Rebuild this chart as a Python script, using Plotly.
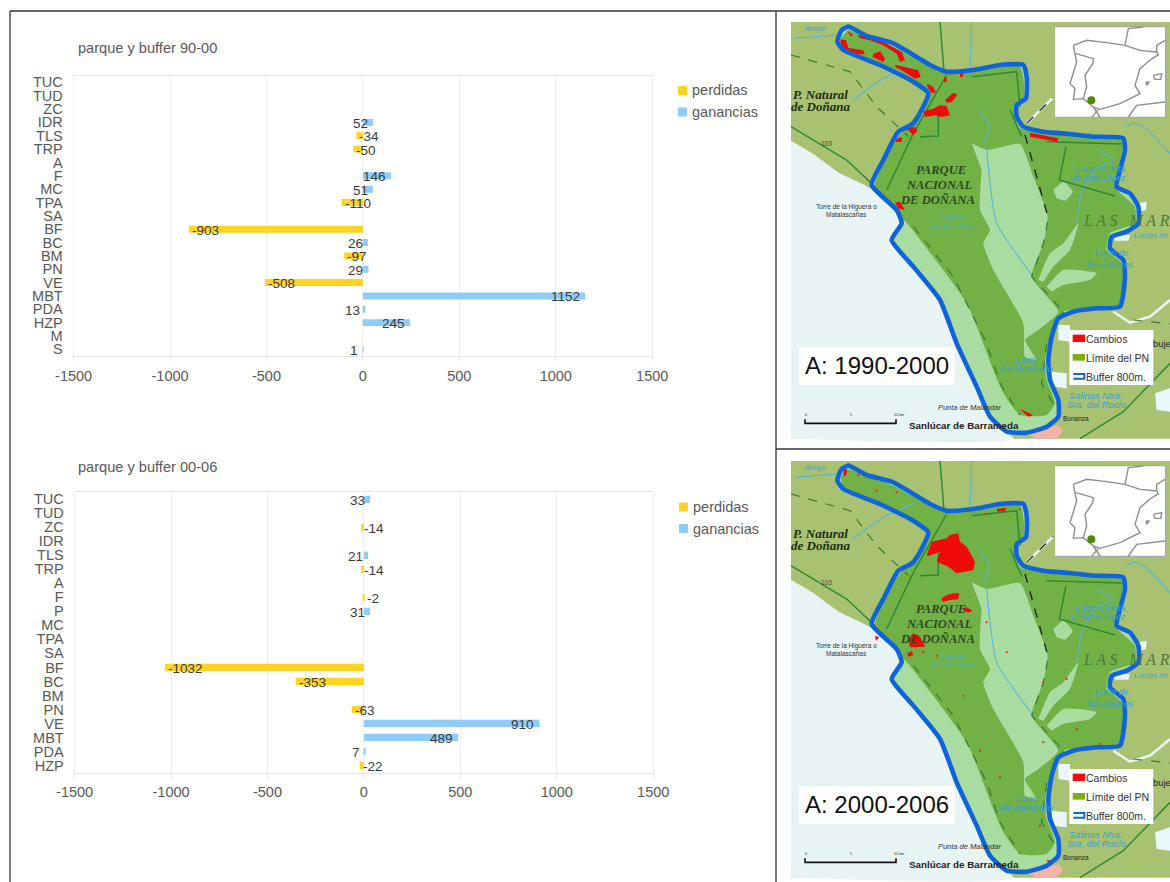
import plotly.graph_objects as go

W, H = 1170, 882

# ---------- chart data ----------
cats_90 = ["TUC","TUD","ZC","IDR","TLS","TRP","A","F","MC","TPA","SA","BF","BC","BM","PN","VE","MBT","PDA","HZP","M","S"]
perd_90 = [None,None,None,None,-34,-50,None,None,None,-110,None,-903,None,-97,None,-508,None,None,None,None,None]
gan_90  = [None,None,None,52,None,None,None,146,51,None,None,None,26,None,29,None,1152,13,245,None,1]

cats_00 = ["TUC","TUD","ZC","IDR","TLS","TRP","A","F","P","MC","TPA","SA","BF","BC","BM","PN","VE","MBT","PDA","HZP"]
perd_00 = [None,None,-14,None,None,-14,None,-2,None,None,None,None,-1032,-353,None,-63,None,None,None,-22]
gan_00  = [33,None,None,None,21,None,None,None,31,None,None,None,None,None,None,None,910,489,7,None]

x_ticks = [-1500,-1000,-500,0,500,1000,1500]
x_tick_text = ["-1500","-1000","-500","0","500","1000","1500"]
YEL, BLU = "#FFD324", "#8FCBFB"
TXT, LBL, GRID, AXL = "#595959", "#3A3A3A", "#EFEFEF", "#E6E6E6"
FONT = "Liberation Sans"

fig = go.Figure()
ann, shp = [], []

def px(x): return x / W
def py(y): return 1 - y / H

def chart(n, cats, perd, gan, left, right, top, bottom, title, title_xy, leg_y, sw_x, txt_x):
    xa, ya = f"x{n}", f"y{n}"
    for name, vals, col in (("perdidas", perd, YEL), ("ganancias", gan, BLU)):
        fig.add_trace(go.Bar(y=cats, x=vals, name=name, orientation="h", width=0.52,
                             marker=dict(color=col, line_width=0), xaxis=xa, yaxis=ya,
                             showlegend=False))
    for vals in (perd, gan):
        for c, v in zip(cats, vals):
            if v is None:
                continue
            ann.append(dict(x=v, y=c, xref=xa, yref=ya, text=str(v), showarrow=False,
                            xanchor="right" if v > 0 else "left",
                            xshift=-3 if v > 0 else 1, yshift=-1,
                            font=dict(family=FONT, size=13.5, color=LBL)))
    fig.update_layout({
        f"xaxis{n}": dict(domain=[px(left), px(right)], range=[-1500, 1500], anchor=ya,
                          tickvals=x_ticks, ticktext=x_tick_text, showgrid=True, gridcolor=GRID, gridwidth=1,
                          zeroline=True, zerolinecolor=GRID, zerolinewidth=1,
                          showline=True, linecolor=AXL, linewidth=1.2, mirror=True,
                          ticks="outside", ticklen=4, tickcolor=AXL, ticklabelstandoff=2,
                          tickfont=dict(family=FONT, size=14.5, color=TXT)),
        f"yaxis{n}": dict(domain=[py(bottom), py(top)], anchor=xa, type="category",
                          categoryorder="array", categoryarray=cats[::-1], dtick=1,
                          range=[-0.5, len(cats) - 0.5], showgrid=False, zeroline=False,
                          showline=True, linecolor=GRID, linewidth=1, mirror=True,
                          ticks="", ticklabelstandoff=7,
                          tickfont=dict(family=FONT, size=14.5, color=TXT)),
    })
    ann.append(dict(x=px(title_xy[0]), y=py(title_xy[1]), xref="paper", yref="paper", text=title,
                    showarrow=False, xanchor="left", yanchor="middle", borderpad=0,
                    font=dict(family=FONT, size=14.6, color=TXT)))
    for yc, name, col in ((leg_y[0], "perdidas", YEL), (leg_y[1], "ganancias", BLU)):
        shp.append(dict(type="rect", xref="paper", yref="paper", x0=px(sw_x), x1=px(sw_x + 9),
                        y0=py(yc - 4.5), y1=py(yc + 4.5), fillcolor=col, line_width=0))
        ann.append(dict(x=px(txt_x), y=py(yc), xref="paper", yref="paper", text=name, showarrow=False,
                        xanchor="left", yanchor="middle", borderpad=0,
                        font=dict(family=FONT, size=14.5, color=TXT)))

chart(1, cats_90, perd_90, gan_90, 73.6, 652.2, 75.7, 356, "parque y buffer 90-00", (77, 47.7), (90.5, 112), 678, 690.5)
chart(2, cats_00, perd_00, gan_00, 74.6, 653.2, 492.3, 772.5, "parque y buffer 00-06", (76.5, 466.7), (507, 528.5), 679, 691.5)

# ---------- map geography (map-local coordinates, shared by both panels) ----------
land = [(33,36),(1170,36),(1170,1286),(33,1286)]
sea = [(33,392),(100,432),(180,490),(270,535),(372,640),(330,690),(400,770),(480,870),(530,1000),(590,1130),(630,1220),(700,1286),(33,1286)]
buffer_line = [(205,50),(260,78),(340,100),(400,135),(450,165),(500,185),(580,180),(660,165),(730,165),(740,200),(738,265),(710,285),(710,320),(730,350),(790,365),(870,372),(940,380),(1030,385),(1035,420),(1020,480),(1010,530),(1050,550),(1075,590),(1075,640),(1040,665),(995,680),(990,715),(1030,750),(1035,800),(1020,890),(950,895),(880,905),(835,925),(815,980),(805,1050),(810,1110),(835,1170),(835,1220),(800,1250),(740,1268),(680,1265),(630,1220),(590,1130),(530,1000),(480,870),(400,770),(335,690),(365,640),(350,600),(275,525),(310,450),(355,365),(400,340),(445,250),(400,215),(300,165),(190,120),(172,95),(185,60),(205,50)]
park = [(205,60),(340,110),(490,188),(720,170),(732,260),(702,295),(720,355),(1028,392),(1005,530),(1065,590),(1065,640),(990,670),(980,720),(1025,760),(1022,885),(850,905),(810,980),(795,1060),(800,1110),(825,1180),(800,1215),(720,1215),(670,1150),(640,1080),(560,880),(390,650),(285,530),(340,400),(445,260),(380,212),(190,112),(182,85)]
marsh_main = [(575,400),(620,420),(720,402),(760,500),(803,620),(790,700),(755,800),(835,905),(775,960),(735,990),(770,1050),(735,1040),(730,940),(640,780),(610,700),(630,660),(600,600),(605,480)]
marsh_e1 = [(775,810),(810,730),(850,700),(895,640),(870,720),(820,770),(790,815)]
marsh_e2 = [(800,830),(850,780),(950,790),(930,810),(850,825),(815,845)]
marsh_n = [(820,540),(850,515),(878,545),(855,572),(830,565)]
water_patches = [[(1075,580),(1100,575),(1098,600),(1078,605)], [(1000,675),(1050,675),(1045,692),(1005,692)], [(835,945),(870,945),(870,995),(835,990)], [(815,1085),(860,1090),(860,1135),(820,1130)], [(1125,1150),(1170,1135),(1170,1205),(1130,1200)]]
urban = [(750,1270),(835,1245),(850,1262),(830,1286),(765,1286)]

dark_lines = [[(33,350),(110,395),(200,450),(285,530)], [(500,195),(400,370),(320,540)], [(480,36),(492,185)], [(575,200),(710,185),(720,290)], [(690,300),(725,380)], [(800,395),(1025,402)], [(858,410),(838,510),(1005,558)], [(420,380),(475,378),(475,300)], [(900,1286),(1030,1205),(1170,1060)]]
dash_lines = [[(33,135),(210,185),(290,290),(385,380)], [(400,650),(520,800),(620,1000),(660,1120),(720,1215)], [(735,375),(770,500),(805,625),(790,700),(755,800),(850,905)], [(850,905),(800,1000),(785,1120),(825,1190)], [(1060,930),(1170,942)]]
road_lines = [[(740,340),(790,290),(820,262)], [(735,375),(770,500),(805,625)]]
river_lines = [[(575,36),(570,185)], [(950,420),(1000,450),(950,475),(905,550),(890,640)], [(620,420),(650,640),(760,800)], [(595,300),(630,350),(610,400)], [(220,270),(310,205),(400,165)], [(40,85),(170,75)], [(1040,350),(1060,340),(1090,350),(1170,430)]]
white_rivers = [[(1000,905),(1050,938),(1110,920),(1170,870)], [(740,340),(790,290),(820,262)]]

iberia = [[(880,106),(920,91),(980,98),(1035,106),(1080,121),(1130,126),(1135,134),(1110,150),(1080,176),(1065,226),(1080,251),(1020,281),(960,298),(940,291),(910,266),(880,268),(885,236),(870,221),(890,156),(880,106)],
          [(888,131),(940,146),(938,161),(915,196),(920,231),(910,266)],
          [(1035,106),(1045,56),(1090,51)], [(1130,126),(1130,106),(1155,91)],
          [(940,291),(960,321)], [(955,298),(935,322)], [(1045,321),(1070,286),(1155,276)],
          [(1120,196),(1145,191),(1142,208),(1125,208),(1120,196)], [(1098,216),(1108,216),(1100,226),(1098,216)]]

red_90 = [[(200,61),(220,76),(212,78)], [(235,76),(280,84),(320,101),(365,126),(375,151),(360,156),(350,131),(310,106),(270,91),(238,84)], [(180,88),(198,91),(205,114),(250,121),(255,133),(210,131),(185,116)], [(280,131),(300,124),(315,146),(310,156),(290,146),(278,141)], [(345,164),(390,176),(415,181),(422,201),(405,206),(370,184),(347,172)], [(442,221),(460,231),(468,248),(455,248),(442,231)], [(492,201),(500,204),(500,216),(493,216)], [(540,191),(550,188),(548,201),(540,201)], [(495,271),(520,248),(532,254),(515,276),(500,278)], [(430,304),(460,296),(480,286),(500,288),(510,316),(485,321),(465,316),(435,321)], [(365,356),(405,351),(412,364),(400,376),(385,361),(365,361)], [(348,388),(365,381),(365,396),(348,396)], [(750,368),(835,385),(832,395),(750,380)], [(345,578),(360,575),(375,600),(355,595)], [(720,1197),(760,1215),(745,1220)]]
red_00 = [[(190,62),(202,60),(198,80),(190,80)], [(650,180),(678,177),(676,187),(652,188)], [(440,318),(455,278),(500,268),(510,258),(535,253),(540,278),(560,293),(585,338),(580,363),(530,373),(505,353),(470,338),(480,308),(445,321)], [(485,448),(500,438),(515,435),(518,433),(538,433),(535,451),(510,453),(488,458)], [(545,481),(560,475),(578,485),(565,491)], [(385,573),(400,553),(420,563),(435,593),(390,595)], [(382,613),(395,606),(400,618),(385,623)], [(285,560),(298,565),(288,575)], [(800,1232),(815,1235),(805,1242)]]
red_dots_00 = [(235,78),(290,125),(350,130),(620,195),(720,180),(620,520),(680,610),(790,700),(550,740),(660,985),(780,1130),(600,905),(790,880),(860,690),(890,840),(960,885),(470,620),(430,610)]

MAP_TEXT = 1.4 / 3
map_labels = [
    ("P. Natural", 122, 254, 28, "Liberation Serif", "#1E2E14", "bold", "italic"),
    ("de Doñana", 122, 290, 28, "Liberation Serif", "#1E2E14", "bold", "italic"),
    ("PARQUE", 482, 480, 27, "Liberation Serif", "#2F4A20", "bold", "italic"),
    ("NACIONAL", 478, 525, 27, "Liberation Serif", "#2F4A20", "bold", "italic"),
    ("DE DOÑANA", 472, 570, 27, "Liberation Serif", "#2F4A20", "bold", "italic"),
    ("L A S   M A R", 1040, 632, 34, "Liberation Serif", "#4C7A3A", "normal", "italic"),
    ("Torre de la Higuera o", 200, 590, 14, FONT, "#333333", "normal", "normal"),
    ("Matalascañas", 200, 614, 14, FONT, "#333333", "normal", "normal"),
    ("Laguna", 520, 625, 15, FONT, "#4FB0A8", "normal", "italic"),
    ("de Sta. Olalla", 520, 650, 15, FONT, "#4FB0A8", "normal", "italic"),
    ("Lucio Caleta", 960, 478, 19, FONT, "#3F9FD0", "normal", "italic"),
    ("de Mari López", 958, 503, 18, FONT, "#3F9FD0", "normal", "italic"),
    ("Lucio de", 995, 728, 19, FONT, "#3F9FD0", "normal", "italic"),
    ("los Ánsares", 992, 764, 19, FONT, "#3F9FD0", "normal", "italic"),
    ("Lucios de", 1115, 678, 17, FONT, "#3F9FD0", "normal", "italic"),
    ("Lucio", 740, 1050, 19, FONT, "#3F9FD0", "normal", "italic"),
    ("del Membrillo", 738, 1077, 19, FONT, "#3F9FD0", "normal", "italic"),
    ("Salinas Ntra.", 945, 1158, 20, FONT, "#3F9FD0", "normal", "italic"),
    ("Sra. del Rocío", 948, 1185, 20, FONT, "#3F9FD0", "normal", "italic"),
    ("Punta de Malandar", 568, 1192, 16, FONT, "#333333", "normal", "italic"),
    ("Bonanza", 888, 1226, 14, FONT, "#222222", "normal", "normal"),
    ("Sanlúcar de Barrameda", 552, 1247, 21, FONT, "#222222", "bold", "normal"),
    ("Arroyo", 105, 57, 15, FONT, "#3F9FD0", "normal", "italic"),
    ("103", 140, 400, 14, FONT, "#444444", "normal", "normal"),
    ("0", 77, 1214, 8, FONT, "#222222", "normal", "normal"),
    ("5", 212, 1214, 8, FONT, "#222222", "normal", "normal"),
    ("10 km", 358, 1214, 8, FONT, "#222222", "normal", "normal"),
    ("buje", 1145, 1002, 20, FONT, "#222222", "normal", "normal"),
]

LAND, SEA = "#A9C272", "#E8F4F4"
PARK, MARSH = "#71B146", "#A8DCA0"

def xy(points):
    return [p[0] for p in points], [p[1] for p in points]

def poly(n, points, fill, line=None, width=0, smooth=False):
    x, y = xy(points)
    ln = dict(color=line or fill, width=width)
    if smooth:
        ln.update(shape="spline", smoothing=0.5)
    fig.add_trace(go.Scatter(x=x, y=y, mode="lines", fill="toself", fillcolor=fill, line=ln,
                             xaxis=f"x{n}", yaxis=f"y{n}", showlegend=False, hoverinfo="skip"))

def path(n, points, color, width, dash=None, smooth=False):
    x, y = xy(points)
    ln = dict(color=color, width=width, dash=dash)
    if smooth:
        ln.update(shape="spline", smoothing=0.5)
    fig.add_trace(go.Scatter(x=x, y=y, mode="lines", line=ln,
                             xaxis=f"x{n}", yaxis=f"y{n}", showlegend=False, hoverinfo="skip"))

def map_panel(n, top_px, bottom_px, zmax, red, dots, label):
    xa, ya = f"x{n}", f"y{n}"
    fig.update_layout({
        f"xaxis{n}": dict(domain=[px(780), 1], range=[0, 1170], visible=False, anchor=ya, fixedrange=True),
        f"yaxis{n}": dict(domain=[py(bottom_px), py(top_px)], range=[zmax, 0], visible=False, anchor=xa, fixedrange=True),
    })
    poly(n, land, LAND)
    poly(n, sea, SEA, smooth=True)
    for w in water_patches:
        poly(n, w, "#E9F6FB")
    poly(n, urban, "#F4B3A6")
    for r in white_rivers:
        path(n, r, "#EAF6FA", 2.5)
    poly(n, buffer_line, MARSH, smooth=True)
    poly(n, park, PARK, smooth=True)
    for m in (marsh_main, marsh_e1, marsh_e2, marsh_n):
        poly(n, m, MARSH, smooth=True)
    for r in river_lines:
        path(n, r, "#58B6D8", 1.1, smooth=True)
    for d in dark_lines:
        path(n, d, "#2F8A35", 1.5)
    for d in dash_lines:
        path(n, d, "#3A7A35", 1.2, "dash")
    for d in road_lines:
        path(n, d, "#222222", 1.2, "dash")
    for r in red:
        poly(n, r, "#F00A0A")
    if dots:
        x, y = xy(dots)
        fig.add_trace(go.Scatter(x=x, y=y, mode="markers", marker=dict(color="#F01818", size=2),
                                 xaxis=xa, yaxis=ya, showlegend=False, hoverinfo="skip"))
    path(n, buffer_line, "#0F64DC", 4.6, smooth=True)
    # inset
    poly(n, [(825,50),(1157,50),(1157,322),(825,322)], "#FFFFFF", "#A8A8A8", 1.4)
    for seg in iberia:
        path(n, seg, "#8E8E8E", 1.4)
    x, y = xy([(934,271)])
    fig.add_trace(go.Scatter(x=x, y=y, mode="markers", marker=dict(color="#4F8A0E", size=8),
                             xaxis=xa, yaxis=ya, showlegend=False, hoverinfo="skip"))
    # scale bar
    path(n, [(75,1228),(75,1240),(348,1240),(348,1228)], "#111111", 1.6)
    # label box
    poly(n, [(58,1012),(524,1012),(524,1125),(58,1125)], "#FFFFFF")
    ann.append(dict(x=72, y=1067, xref=xa, yref=ya, text=label, showarrow=False, xanchor="left", borderpad=0,
                    font=dict(family=FONT, size=24, color="#111111")))
    # map legend
    poly(n, [(868,960),(1120,960),(1120,1125),(868,1125)], "#FFFFFF")
    poly(n, [(878,974),(915,974),(915,996),(878,996)], "#F00A0A")
    poly(n, [(878,1032),(915,1032),(915,1052),(878,1052)], "#7FAE12")
    poly(n, [(880,1092),(913,1092),(913,1106),(880,1106)], "#FFFFFF", "#0F64DC", 2)
    for t, yy in (("Cambios", 988), ("Límite del PN", 1043), ("Buffer 800m.", 1100)):
        ann.append(dict(x=914, y=yy, xref=xa, yref=ya, text=t, showarrow=False, xanchor="left", borderpad=0,
                        font=dict(family=FONT, size=10.5, color="#333333")))
    for t, lx, ly, sz, fam, col, wt, st in map_labels:
        ann.append(dict(x=lx, y=ly, xref=xa, yref=ya, text=t, showarrow=False, xanchor="center", borderpad=0,
                        font=dict(family=fam, size=sz * MAP_TEXT, color=col, weight=wt, style=st)))

map_panel(3, 10, 449, 1317, red_90, None, "A: 1990-2000")
map_panel(4, 449, 882, 1299, red_00, red_dots_00, "A: 2000-2006")

# ---------- frame lines ----------
FR = "#333333"
for x0, y0, x1, y1 in ((10, 11, 1170, 11), (10, 11, 10, 882), (776, 11, 776, 882), (776, 449, 1170, 449)):
    shp.append(dict(type="line", xref="paper", yref="paper", x0=px(x0), y0=py(y0), x1=px(x1), y1=py(y1),
                    line=dict(color=FR, width=1.3), layer="above"))

fig.update_layout(width=W, height=H, margin=dict(l=0, r=0, t=0, b=0, pad=0, autoexpand=False),
                  paper_bgcolor="#FFFFFF", plot_bgcolor="rgba(0,0,0,0)", showlegend=False,
                  barmode="overlay", annotations=ann, shapes=shp)

fig.write_html("out.html", config=dict(displayModeBar=False),
               post_script="document.body.style.margin='0';document.body.style.overflow='hidden';")
